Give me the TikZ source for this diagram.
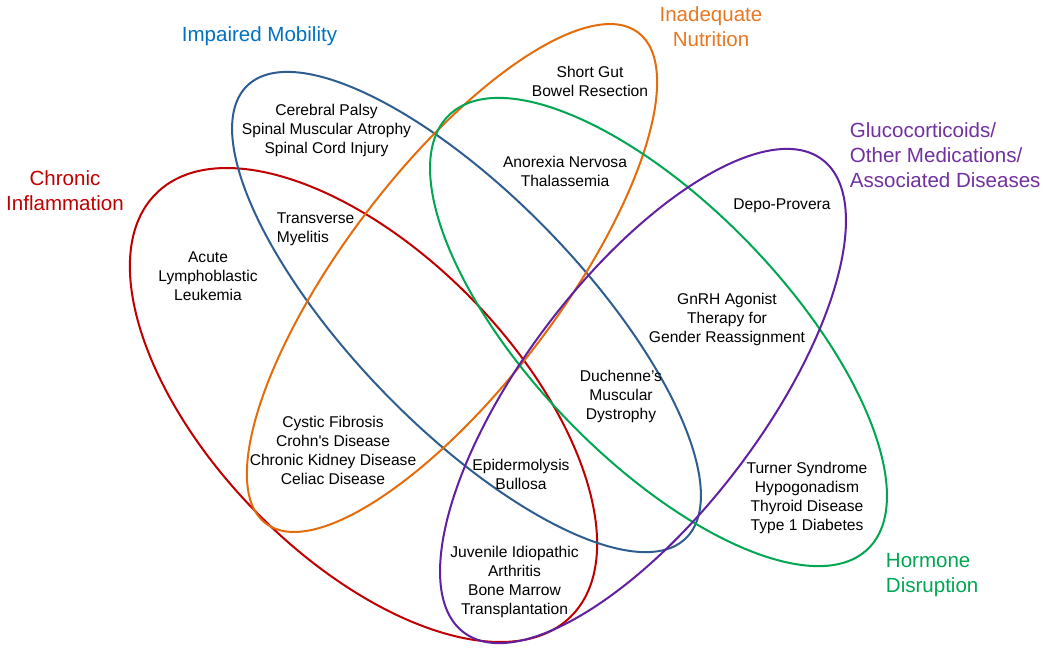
\documentclass[tikz,border=0pt]{standalone}
\usepackage{fontspec}
\setmainfont{Liberation Sans}

\tikzset{every picture/.style={line width=0.75pt}}
\tikzset{
  itemtext/.style={align=center, font=\fontsize{11.7}{14.25}\selectfont},
  cattext/.style={font=\fontsize{15.4}{18.75}\selectfont}
}

\begin{document}
\begin{tikzpicture}[x=0.75pt,y=0.75pt,yscale=-1,xscale=1]
	\useasboundingbox (0,0) rectangle (1050,651);

	%Shape: Ellipse [Chronic Inflammation]
	\draw [color={rgb, 255:red, 192; green, 0; blue, 0 }  ,line width=1.5]  [rotate around={45.7:(363.5,405)}] (363.5,405) ellipse (296.2 and 151.6);
	%Shape: Ellipse [Impaired Mobility]
	\draw [color={rgb, 255:red, 46; green, 94; blue, 145 }  ,line width=1.5]  [rotate around={45.9:(466.5,312)}] (466.5,312) ellipse (315.1 and 115.2);
	%Shape: Ellipse [Inadequate Nutrition]
	\draw [color={rgb, 255:red, 228; green, 108; blue, 10 }  ,line width=1.5]  [rotate around={-52.8:(452,278)}] (452,278) ellipse (308.1 and 107.7);
	%Shape: Ellipse [Hormone Disruption]
	\draw [color={rgb, 255:red, 0; green, 166; blue, 81 }  ,line width=1.5]  [rotate around={46:(658.5,332)}] (658.5,332) ellipse (301.5 and 126.7);
	%Shape: Ellipse [Glucocorticoids]
	\draw [color={rgb, 255:red, 96; green, 32; blue, 160 }  ,line width=1.5]  [rotate around={-52.8:(643,396)}] (643,396) ellipse (296.7 and 119.1);

	% Text Node
	\draw (65,191) node [cattext, align=center, color={rgb, 255:red, 192; green, 0; blue, 0 }] (chronic) {Chronic\\Inflammation};
	% Text Node
	\draw (259.5,36) node [cattext, color={rgb, 255:red, 0; green, 112; blue, 192 }] (mobility) {Impaired Mobility};
	% Text Node
	\draw (711,27) node [cattext, align=center, color={rgb, 255:red, 232; green, 119; blue, 34 }] (nutrition) {Inadequate\\Nutrition};
	% Text Node
	\draw (845,155) node [cattext, anchor=west, align=left, color={rgb, 255:red, 112; green, 48; blue, 160 }] (gluco) {Glucocorticoids/\\Other Medications/\\Associated Diseases};
	% Text Node
	\draw (881,575) node [cattext, anchor=west, align=left, color={rgb, 255:red, 0; green, 166; blue, 81 }] (hormone) {Hormone\\Disruption};

	% Text Node
	\draw (326.5,130) node [itemtext] (palsy) {Cerebral Palsy\\Spinal Muscular Atrophy\\Spinal Cord Injury};
	% Text Node
	\draw (272,229.5) node [itemtext, anchor=west, align=left] (myelitis) {Transverse\\Myelitis};
	% Text Node
	\draw (208,276) node [itemtext] (leukemia) {Acute\\Lymphoblastic\\Leukemia};
	% Text Node
	\draw (590,81) node [itemtext] (shortgut) {Short Gut\\Bowel Resection};
	% Text Node
	\draw (565,171.5) node [itemtext] (anorexia) {Anorexia Nervosa\\Thalassemia};
	% Text Node
	\draw (782,206) node [itemtext] (depo) {Depo-Provera};
	% Text Node
	\draw (727,319) node [itemtext] (gnrh) {GnRH Agonist\\Therapy for\\Gender Reassignment};
	% Text Node
	\draw (621,396) node [itemtext] (duchenne) {Duchenne’s\\Muscular\\Dystrophy};
	% Text Node
	\draw (333,450) node [itemtext] (cystic) {Cystic Fibrosis\\Crohn\textquotesingle s Disease\\Chronic Kidney Disease\\Celiac Disease};
	% Text Node
	\draw (521,474.5) node [itemtext] (epider) {Epidermolysis\\Bullosa};
	% Text Node
	\draw (514.5,581.5) node [itemtext] (juvenile) {Juvenile Idiopathic\\Arthritis\\Bone Marrow\\Transplantation};
	% Text Node
	\draw (807,497.5) node [itemtext] (turner) {Turner Syndrome\\Hypogonadism\\Thyroid Disease\\Type 1 Diabetes};

\end{tikzpicture}
\end{document}
